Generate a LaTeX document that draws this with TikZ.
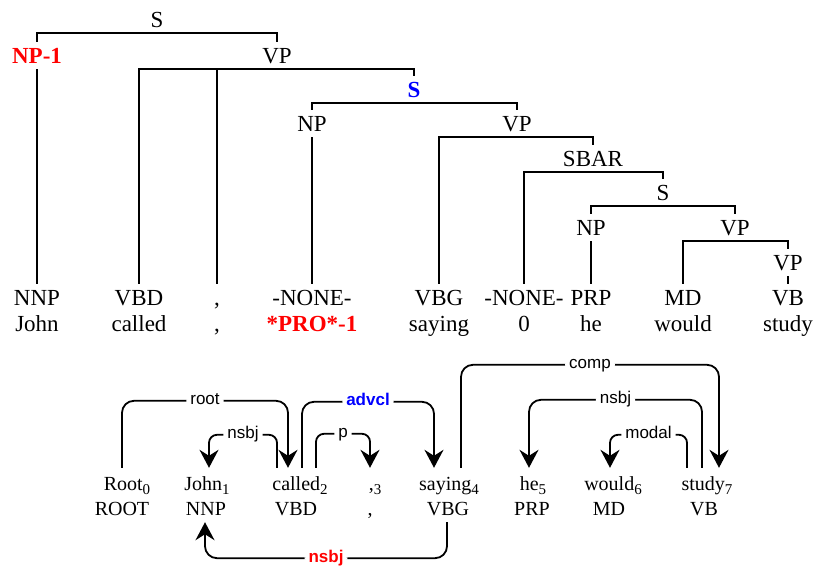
\documentclass[tikz,border=0pt]{standalone}
\usepackage{fontspec}
\setmainfont{Liberation Serif}
\setsansfont{Liberation Sans}
\usetikzlibrary{arrows.meta}

\newcommand\treefont{\fontsize{23}{27}\selectfont}
\newcommand\tokfont{\fontsize{20}{24}\selectfont}
\newcommand\relfont{\sffamily\fontsize{17}{20}\selectfont}
\newcommand\idx[1]{\raisebox{-4pt}{\fontsize{15}{17}\selectfont#1}}

\tikzset{
	cat/.style={font=\treefont, text height=15pt, text depth=0pt, inner xsep=2pt, inner ysep=6pt, anchor=base},
	cathl/.style={cat, font=\treefont\bfseries},
	leafword/.style={font=\treefont, anchor=base},
	branch/.style={line width=1.8pt},
	tok/.style={font=\tokfont, text height=15pt, text depth=0pt, inner ysep=7pt, anchor=base},
	arc/.style={line width=1.8pt, -{Stealth[length=18pt, width=19pt, inset=6pt]}, rounded corners=#1},
	arc/.default=12pt,
	rel/.style={font=\relfont, fill=white, inner xsep=4pt, inner ysep=1pt, text height=12pt, text depth=4pt},
	relhl/.style={rel, font=\relfont\bfseries},
}

\begin{document}
\begin{tikzpicture}[x=1pt, y=-1pt]
	\useasboundingbox (0,0) rectangle (816,568);
	% constituency tree
	\node[cat] (s0) at (157,27) {S};
	\node[cathl, text=red] (np1) at (37,63) {NP-1};
	\node[cat] (vp1) at (277,63) {VP};
	\node[cathl, text=blue] (s1) at (414,97) {S};
	\node[cat] (np2) at (312,131) {NP};
	\node[cat] (vp2) at (517,131) {VP};
	\node[cat] (sbar) at (593,166) {SBAR};
	\node[cat] (s3) at (663,200) {S};
	\node[cat] (np3) at (591,235) {NP};
	\node[cat] (vp3) at (735,235) {VP};
	\node[cat] (vp4) at (788,270) {VP};
	\foreach \x/\p/\w [count=\i] in {37/NNP/John, 139/VBD/called, 217/{,}/{,}, 312/-NONE-/{\color{red}\bfseries *PRO*-1}, 439/VBG/saying, 524/-NONE-/0, 591/PRP/he, 683/MD/would, 788/VB/study} {
		\node[cat] (pos\i) at (\x,305) {\p};
		\node[leafword] (wrd\i) at (\x,331) {\w};
	}
	\draw[branch] (np1.north) |- (s0.south) -| (vp1.north);
	\draw[branch] (pos1.north) -- (np1.south);
	\draw[branch] (pos2.north) |- (vp1.south) -| (s1.north);
	\draw[branch] (pos3.north) -- (pos3.north |- vp1.south);
	\draw[branch] (np2.north) |- (s1.south) -| (vp2.north);
	\draw[branch] (pos4.north) -- (np2.south);
	\draw[branch] (pos5.north) |- (vp2.south) -| (sbar.north);
	\draw[branch] (pos6.north) |- (sbar.south) -| (s3.north);
	\draw[branch] (np3.north) |- (s3.south) -| (vp3.north);
	\draw[branch] (pos7.north) -- (np3.south);
	\draw[branch] (pos8.north) |- (vp3.south) -| (vp4.north);
	\draw[branch] (pos9.north) -- (vp4.south);
	% dependency graph
	\foreach \x/\w/\px/\p [count=\i from 0] in {127/Root\idx{0}/122/ROOT, 207/John\idx{1}/206/NNP, 300/called\idx{2}/296/VBD, 375/{,\idx{3}}/370/{,}, 449/saying\idx{4}/448/VBG, 533/he\idx{5}/532/PRP, 613/would\idx{6}/609/MD, 707/study\idx{7}/704/VB} {
		\node[tok] (tok\i) at (\x,490) {\w};
		\node[tok] (tag\i) at (\px,515) {\p};
	}
	\draw[arc] ([xshift=-5pt]tok0.north) -- ++(0,-67) -| node[rel, pos=.25] {root} ([xshift=-12pt]tok2.north);
	\draw[arc=8pt] ([xshift=-23pt]tok2.north) -- ++(0,-33) -| node[rel, pos=.25] {nsbj} ([xshift=2pt]tok1.north);
	\draw[arc] ([xshift=2pt]tok2.north) -- ++(0,-66) -| node[relhl, pos=.25, text=blue] {advcl} ([xshift=-15pt]tok4.north);
	\draw[arc=8pt] ([xshift=16pt]tok2.north) -- ++(0,-34) -| node[rel, pos=.25] {p} ([xshift=-5pt]tok3.north);
	\draw[arc] ([xshift=12pt]tok4.north) -- ++(0,-103) -| node[rel, pos=.25] {comp} ([xshift=12pt]tok7.north);
	\draw[arc] ([xshift=-5pt]tok7.north) -- ++(0,-68) -| node[rel, pos=.25] {nsbj} ([xshift=-4pt]tok5.north);
	\draw[arc=8pt] ([xshift=-20pt]tok7.north) -- ++(0,-33) -| node[rel, pos=.25] {modal} ([xshift=-3pt]tok6.north);
	\draw[arc] ([xshift=-1pt]tag4.south) -- ++(0,36) -| node[relhl, pos=.25, text=red] {nsbj} ([xshift=-1pt]tag1.south);
\end{tikzpicture}
\end{document}
